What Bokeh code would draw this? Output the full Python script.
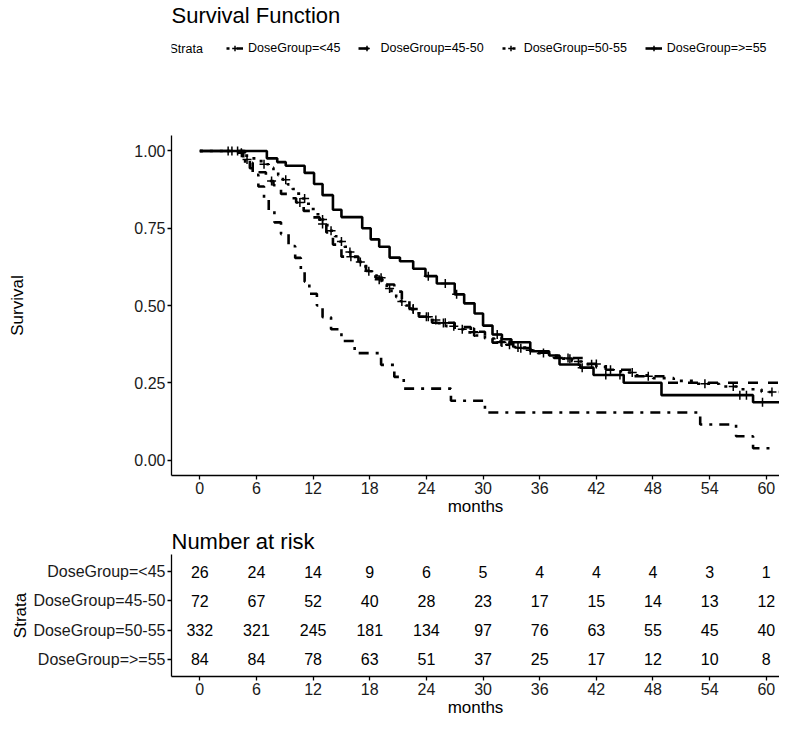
import numpy as np
from bokeh.plotting import figure
from bokeh.models import (Range1d, FixedTicker, NumeralTickFormatter, Legend,
                          LegendItem, ColumnDataSource, Label)
from bokeh.layouts import column
from bokeh.embed import file_html
from bokeh.resources import INLINE
from bokeh.core.properties import value

FONT = "Liberation Sans"

# ---------------- data ----------------
strata = ["DoseGroup=<45", "DoseGroup=45-50", "DoseGroup=50-55", "DoseGroup=>=55"]
line_dashes = ["3 7 10 7", "10 10", "3 7", "solid"]

# Kaplan-Meier step curves (time in months, survival after the step)
t_lt45 = [0, 4.8, 5.6, 6.2, 6.8, 7.3, 7.9, 8.6, 9.4, 10.1, 10.7, 11.1, 11.6, 12.4,
          13.0, 13.9, 15.0, 16.4, 19.2, 20.6, 21.6, 26.6, 30.2, 53.0, 56.8, 58.6]
s_lt45 = [1.0, 0.962, 0.923, 0.885, 0.846, 0.808, 0.769, 0.731, 0.692, 0.654, 0.615,
          0.577, 0.538, 0.500, 0.462, 0.423, 0.385, 0.346, 0.308, 0.269, 0.231,
          0.192, 0.154, 0.115, 0.077, 0.038]
end_lt45 = 60.5
cens_lt45 = []

t_4550 = [0, 4.6, 5.3, 6.1, 7.0, 7.8, 8.6, 9.3, 10.2, 11.0, 11.8, 12.7, 13.4, 14.1,
          15.0, 16.8, 17.6, 18.6, 19.6, 20.6, 21.4, 22.2, 23.2, 24.6, 27.0, 28.7,
          30.2, 31.0, 33.2, 35.0, 37.5, 40.9, 43.0, 46.0, 49.5]
s_4550 = [1.0, 0.972, 0.944, 0.931, 0.903, 0.889, 0.861, 0.847, 0.833, 0.806, 0.785,
          0.764, 0.736, 0.697, 0.658, 0.634, 0.612, 0.590, 0.568, 0.545, 0.521,
          0.490, 0.464, 0.444, 0.430, 0.415, 0.398, 0.380, 0.362, 0.347, 0.330,
          0.311, 0.292, 0.271, 0.250]
end_4550 = 61.4
cens_4550 = [5.0, 7.6, 10.6, 13.0, 16.0, 19.2, 22.6, 24.0, 26.0, 29.0, 32.0, 34.0,
             39.0, 42.0, 47.5]

t_5055 = [0, 3.8, 4.8, 5.5, 6.3, 6.8, 7.3, 7.8, 8.3, 8.8, 9.3, 9.8, 10.3, 10.8, 11.3,
          11.8, 12.3, 12.8, 13.3, 13.8, 14.3, 14.8, 15.3, 15.8, 16.3, 16.8, 17.3,
          17.8, 18.3, 18.8, 19.3, 19.8, 20.3, 20.8, 21.3, 21.8, 22.3, 22.8, 23.5,
          24.3, 25.2, 26.1, 27.0, 28.0, 29.2, 30.2, 31.2, 32.3, 33.4, 34.6, 35.8,
          37.0, 38.2, 39.4, 40.6, 42.0, 43.3, 44.6, 46.2, 48.0, 50.2, 52.5, 55.0,
          57.2, 59.5]
s_5055 = [1.0, 0.994, 0.985, 0.976, 0.967, 0.957, 0.946, 0.934, 0.921, 0.907, 0.892,
          0.877, 0.862, 0.846, 0.829, 0.812, 0.795, 0.778, 0.760, 0.742, 0.724,
          0.707, 0.690, 0.673, 0.657, 0.641, 0.626, 0.611, 0.597, 0.583, 0.569,
          0.555, 0.541, 0.527, 0.513, 0.500, 0.487, 0.475, 0.464, 0.453, 0.443,
          0.433, 0.423, 0.413, 0.403, 0.393, 0.383, 0.373, 0.364, 0.355, 0.346,
          0.337, 0.328, 0.319, 0.310, 0.301, 0.292, 0.283, 0.274, 0.265, 0.256,
          0.247, 0.238, 0.229, 0.220]
end_5055 = 61.4
cens_5055 = [3.4, 4.4, 6.8, 9.1, 11.1, 13.0, 13.9, 15.0, 15.9, 17.0, 17.9, 19.0,
             20.1, 21.4, 22.6, 24.2, 25.0, 25.8, 26.9, 27.8, 29.1, 31.9, 32.8, 33.7,
             35.0, 36.4, 39.2, 40.1, 41.5, 43.5, 45.8, 53.5, 56.5, 60.6]

t_ge55 = [0, 7.1, 8.2, 9.1, 11.1, 12.1, 13.0, 14.1, 15.0, 17.2, 18.1, 19.0, 20.1,
          21.2, 22.6, 23.9, 25.1, 27.0, 28.0, 29.1, 30.0, 31.0, 32.0, 33.0, 35.0,
          37.0, 38.1, 40.3, 41.7, 44.9, 48.9, 58.6]
s_ge55 = [1.0, 0.976, 0.964, 0.952, 0.929, 0.893, 0.857, 0.810, 0.786, 0.750, 0.714,
          0.690, 0.655, 0.643, 0.619, 0.595, 0.571, 0.536, 0.507, 0.474, 0.435,
          0.406, 0.391, 0.381, 0.352, 0.338, 0.309, 0.299, 0.275, 0.250, 0.210,
          0.187]
end_ge55 = 61.4
cens_ge55 = [3.0, 4.0, 24.2, 26.0, 27.2, 31.5, 40.5, 43.0, 44.5, 57.2, 57.9, 59.6]

curves = [
    (t_lt45, s_lt45, end_lt45, cens_lt45),
    (t_4550, s_4550, end_4550, cens_4550),
    (t_5055, s_5055, end_5055, cens_5055),
    (t_ge55, s_ge55, end_ge55, cens_ge55),
]

# number at risk table
risk_times = [0, 6, 12, 18, 24, 30, 36, 42, 48, 54, 60]
risk_lt45 = [26, 24, 14, 9, 6, 5, 4, 4, 4, 3, 1]
risk_4550 = [72, 67, 52, 40, 28, 23, 17, 15, 14, 13, 12]
risk_5055 = [332, 321, 245, 181, 134, 97, 76, 63, 55, 45, 40]
risk_ge55 = [84, 84, 78, 63, 51, 37, 25, 17, 12, 10, 8]
risk = [risk_lt45, risk_4550, risk_5055, risk_ge55]

x_ticks = [0, 6, 12, 18, 24, 30, 36, 42, 48, 54, 60]
y_ticks = [0.0, 0.25, 0.5, 0.75, 1.0]

# ---------------- helpers ----------------
LEFT = 171
FW = 608
LW = 2.6
X_RANGE = (-3, 61.4)


def step_path(times, surv, end):
    xs, ys = [], []
    for i in range(len(times)):
        if i > 0:
            xs.append(times[i])
            ys.append(surv[i - 1])
        xs.append(times[i])
        ys.append(surv[i])
    xs.append(end)
    ys.append(surv[-1])
    return xs, ys


def surv_at(times, surv, t):
    i = int(np.searchsorted(times, t, side="right")) - 1
    return surv[i]


def style_axis(ax, label_size="17px"):
    ax.axis_line_color = "black"
    ax.axis_line_width = 1.3
    ax.major_tick_line_color = "black"
    ax.major_tick_line_width = 1.3
    ax.major_tick_in = 0
    ax.major_tick_out = 4
    ax.minor_tick_line_color = None
    ax.major_label_text_font = FONT
    ax.major_label_text_font_size = "16px"
    ax.major_label_text_color = "#1a1a1a"
    ax.major_label_standoff = 2
    ax.axis_label_text_font = FONT
    ax.axis_label_text_font_size = label_size
    ax.axis_label_text_font_style = "normal"
    ax.axis_label_text_color = "black"


def style_title(fig):
    fig.title.text_font = FONT
    fig.title.text_font_size = "22px"
    fig.title.text_font_style = "normal"
    fig.title.text_color = "black"
    fig.title.align = "left"


def draw_curves(fig):
    out = []
    for (times, surv, end, cens), dash in zip(curves, line_dashes):
        xs, ys = step_path(times, surv, end)
        lr = fig.line(xs, ys, line_color="black", line_width=LW, line_dash=dash)
        cy = [surv_at(times, surv, c) for c in cens]
        sr = fig.scatter(cens if cens else [times[0]], cy if cens else [surv[0]],
                         marker="cross", size=9, line_color="black", line_width=1.5,
                         visible=bool(cens))
        out.append((lr, sr))
    return out


# ---------------- header: title + legend ----------------
HEAD_TOP = 26
HEAD_FH = 108
head = figure(frame_width=FW, frame_height=HEAD_FH, min_border_left=LEFT,
              min_border_right=0, min_border_top=HEAD_TOP, min_border_bottom=0,
              x_range=Range1d(1000, 1001), y_range=Range1d(1000, 1001),
              x_axis_type=None, y_axis_type=None,
              output_backend="svg", toolbar_location=None,
              title="Survival Function")
head.outline_line_color = None
head.title.standoff = 0
style_title(head)

# same curves, drawn out of view: they only feed the legend keys
head_r = draw_curves(head)
items = []
for lab, (lr, sr) in zip(strata, head_r):
    sr.visible = True
    items.append(LegendItem(label=lab, renderers=[lr, sr]))

LEG_Y = HEAD_FH - 21
head.add_layout(Label(x=-2, y=LEG_Y, x_units="screen", y_units="screen",
                      text="Strata", text_font=FONT, text_font_size="12.5px",
                      text_baseline="middle", text_color="black"))
leg = Legend(items=items, orientation="horizontal", location=(55, LEG_Y - 7),
             border_line_color=None, background_fill_alpha=0, padding=0,
             margin=0, spacing=18, glyph_width=17, glyph_height=14,
             label_height=14, label_standoff=5, label_text_font=FONT,
             label_text_font_size="12.5px", label_text_color="black")
head.add_layout(leg)

# ---------------- survival plot ----------------
p = figure(frame_width=FW, frame_height=340, min_border_left=LEFT,
           min_border_right=0, min_border_top=0, min_border_bottom=0,
           x_range=Range1d(*X_RANGE), y_range=Range1d(-0.05, 1.05),
           output_backend="svg", toolbar_location=None)
p.outline_line_color = None
p.xgrid.visible = False
p.ygrid.visible = False
draw_curves(p)

p.xaxis.ticker = FixedTicker(ticks=x_ticks)
p.yaxis.ticker = FixedTicker(ticks=y_ticks)
p.yaxis.formatter = NumeralTickFormatter(format="0.00")
p.xaxis.axis_label = "months"
p.yaxis.axis_label = "Survival"
style_axis(p.xaxis[0])
style_axis(p.yaxis[0])
p.xaxis.axis_label_standoff = 0
p.yaxis.axis_label_standoff = 104

# ---------------- number at risk table ----------------
tb = figure(frame_width=FW, frame_height=122, min_border_left=LEFT,
            min_border_right=0, min_border_top=36, min_border_bottom=0,
            x_range=p.x_range, y_range=Range1d(0.4, len(strata) + 0.6),
            output_backend="svg", toolbar_location=None, title="Number at risk")
tb.outline_line_color = None
tb.xgrid.visible = False
tb.ygrid.visible = False
style_title(tb)
tb.title.standoff = 2

row_pos = [len(strata) - i for i in range(len(strata))]
tx, ty, tt = [], [], []
for i, vals in enumerate(risk):
    for t, v in zip(risk_times, vals):
        tx.append(t)
        ty.append(row_pos[i])
        tt.append(str(v))
src = ColumnDataSource(data=dict(x=tx, y=ty, txt=tt))
tb.text(x="x", y="y", text="txt", source=src, text_align="center",
        text_baseline="middle", text_font=value(FONT), text_font_size="16px",
        text_color="black")

tb.xaxis.ticker = FixedTicker(ticks=x_ticks)
tb.yaxis.ticker = FixedTicker(ticks=row_pos)
tb.yaxis.major_label_overrides = {rp: s for rp, s in zip(row_pos, strata)}
tb.xaxis.axis_label = "months"
tb.yaxis.axis_label = "Strata"
style_axis(tb.xaxis[0])
style_axis(tb.yaxis[0])
tb.xaxis.axis_label_standoff = 0
tb.yaxis.axis_label_standoff = 0

layout = column(head, p, tb, spacing=0)
open("out.html", "w").write(file_html(layout, INLINE))
